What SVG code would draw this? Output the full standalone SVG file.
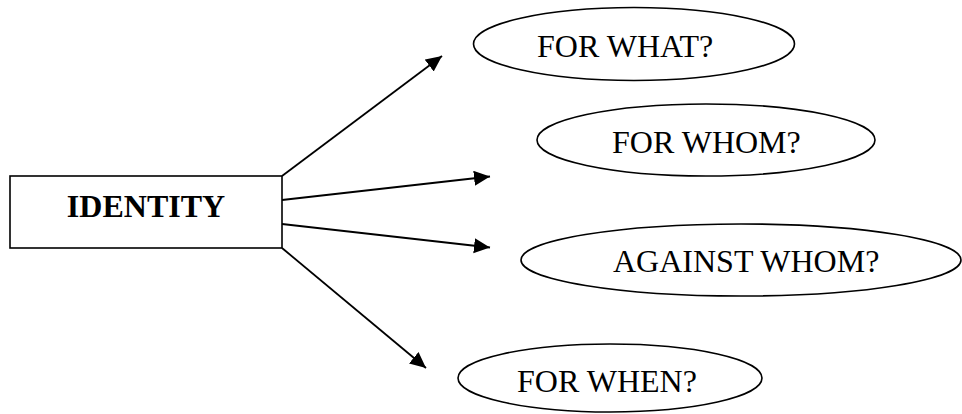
<svg xmlns="http://www.w3.org/2000/svg" width="962" height="414" viewBox="0 0 962 414">
<style>
.shape{fill:#fff;stroke:#000;stroke-width:1.6}
.lbl{font-family:"Liberation Serif","Times New Roman",serif;font-size:32px;fill:#000}
.conn{stroke:#000;stroke-width:1.8;fill:none;marker-end:url(#ah)}
</style>
<defs>
<marker id="ah" markerUnits="userSpaceOnUse" markerWidth="17" markerHeight="16" refX="16" refY="7.5" orient="auto">
<path d="M0,0 L16,7.5 L0,15 z" fill="#000"/>
</marker>
</defs>
<rect width="962" height="414" fill="#fff"/>
<g id="connectors">
<line class="conn" x1="282" y1="176" x2="442" y2="56"/>
<line class="conn" x1="282" y1="200" x2="490" y2="176.5"/>
<line class="conn" x1="282" y1="224" x2="490" y2="247.5"/>
<line class="conn" x1="282" y1="248" x2="426" y2="368"/>
</g>
<g id="identity">
<rect class="shape" x="10" y="176" width="272" height="72"/>
<text class="lbl" x="146" y="217" text-anchor="middle" font-weight="bold">IDENTITY</text>
</g>
<g id="for-what">
<ellipse class="shape" cx="634" cy="44" rx="160.5" ry="36.5"/>
<text class="lbl" x="537" y="56.5">FOR WHAT?</text>
</g>
<g id="for-whom">
<ellipse class="shape" cx="706" cy="140" rx="169" ry="36"/>
<text class="lbl" x="612" y="152.5">FOR WHOM?</text>
</g>
<g id="against-whom">
<ellipse class="shape" cx="741" cy="260" rx="220" ry="36"/>
<text class="lbl" x="613" y="271.5">AGAINST WHOM?</text>
</g>
<g id="for-when">
<ellipse class="shape" cx="610" cy="378" rx="152" ry="34"/>
<text class="lbl" x="517" y="391.5">FOR WHEN?</text>
</g>
</svg>
